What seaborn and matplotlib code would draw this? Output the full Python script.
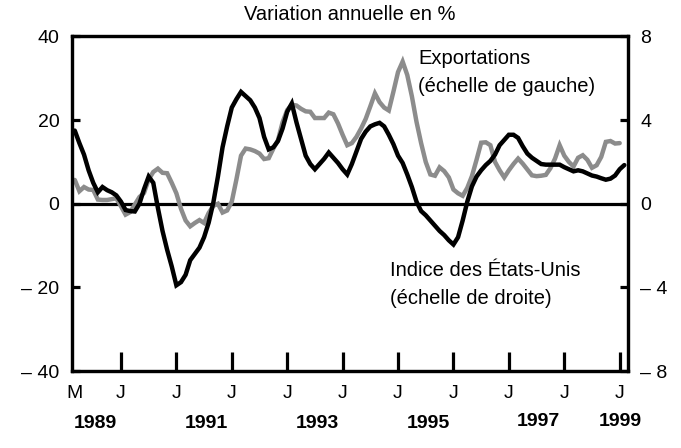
import numpy as np
import pandas as pd
import matplotlib
matplotlib.use("Agg")
import matplotlib.pyplot as plt
import matplotlib.transforms as mtransforms
import seaborn as sns

# ---------------- data ----------------
start_month = 2  # months since Jan 1989 (2 = March 1989)

exports = [5.7, 3.0, 4.0, 3.4, 3.3, 1.0, 0.9, 0.9, 1.1, 1.3,
           -0.6, -2.6, -2.0, -0.2, 1.6, 2.6, 5.8, 7.6, 8.4, 7.4,
           7.3, 5.0, 2.5, -1.2, -4.0, -5.4, -4.6, -3.9, -4.6, -2.2,
           -0.5, 0.0, -2.1, -1.6, 0.5, 5.8, 11.5, 13.2, 13.0, 12.6,
           12.0, 10.7, 10.9, 13.2, 15.2, 19.5, 22.4, 23.7, 23.5, 22.7,
           22.1, 22.0, 20.5, 20.5, 20.5, 21.8, 21.4, 19.2, 16.5, 14.0,
           14.5, 16.0, 18.0, 20.3, 23.3, 26.4, 24.3, 23.0, 22.3, 26.8,
           31.5, 34.0, 30.8, 25.7, 19.6, 14.5, 10.0, 7.0, 6.7, 8.7,
           7.8, 6.3, 3.4, 2.5, 1.9, 3.8, 6.6, 10.5, 14.6, 14.7,
           14.0, 10.0, 8.0, 6.3, 8.0, 9.5, 10.8, 9.6, 8.2, 6.8,
           6.6, 6.7, 6.9, 8.5, 10.8, 14.0, 11.5, 10.0, 8.9, 11.0,
           11.6, 10.5, 8.6, 9.2, 11.2, 14.8, 15.0, 14.4, 14.5]

us_index = [3.5, 2.9, 2.35, 1.6, 1.0, 0.55, 0.8, 0.65, 0.55, 0.4,
            0.1, -0.3, -0.35, -0.37, 0.0, 0.7, 1.3, 1.0, -0.2, -1.3,
            -2.2, -3.0, -3.9, -3.75, -3.4, -2.7, -2.4, -2.1, -1.6, -0.9,
            0.05, 1.3, 2.7, 3.7, 4.6, 5.0, 5.35, 5.15, 4.95, 4.6,
            4.1, 3.2, 2.6, 2.7, 3.0, 3.6, 4.4, 4.8, 3.9, 3.1,
            2.3, 1.9, 1.65, 1.9, 2.15, 2.45, 2.2, 1.95, 1.65, 1.4,
            1.9, 2.5, 3.1, 3.45, 3.7, 3.8, 3.87, 3.7, 3.3, 2.85,
            2.3, 1.95, 1.4, 0.8, 0.1, -0.35, -0.55, -0.8, -1.05, -1.3,
            -1.5, -1.75, -1.95, -1.6, -0.8, 0.1, 0.83, 1.3, 1.6, 1.85,
            2.05, 2.35, 2.8, 3.05, 3.3, 3.3, 3.15, 2.75, 2.4, 2.2,
            2.05, 1.9, 1.87, 1.87, 1.87, 1.87, 1.75, 1.65, 1.55, 1.6,
            1.55, 1.45, 1.35, 1.3, 1.22, 1.15, 1.2, 1.35, 1.65, 1.85]

left_ticks = [-40, -20, 0, 20, 40]
left_labels = ["\u2013 40", "\u2013 20", "0", "20", "40"]
right_ticks = [-8, -4, 0, 4, 8]
right_labels = ["\u2013 8", "\u2013 4", "0", "4", "8"]
x_ticks = [2, 12, 24, 36, 48, 60, 72, 84, 96, 108, 120]
x_labels = ["M", "J", "J", "J", "J", "J", "J", "J", "J", "J", "J"]
year_labels = ["1989", "1991", "1993", "1995", "1997", "1999"]
year_pos = [6.5, 30.5, 54.5, 78.5, 102.5, 120.2]

df_exp = pd.DataFrame({"month": np.arange(start_month, start_month + len(exports)),
                       "value": exports})
df_us = pd.DataFrame({"month": np.arange(start_month, start_month + len(us_index)),
                      "value": us_index})

# ---------------- style ----------------
sns.set_style("ticks")
plt.rcParams["font.family"] = ["Liberation Sans", "DejaVu Sans"]
plt.rcParams["text.color"] = "black"
plt.rcParams["xtick.color"] = "black"
plt.rcParams["ytick.color"] = "black"
plt.rcParams["xtick.labelcolor"] = "black"
plt.rcParams["ytick.labelcolor"] = "black"

W, H = 681, 448
fig = plt.figure(figsize=(W / 100, H / 100), dpi=100)
L, R, T, B = 72, 628, 36.5, 371
ax = fig.add_axes([L / W, 1 - B / H, (R - L) / W, (B - T) / H])
ax2 = ax.twinx()

gray = "#8c8c8c"
sns.lineplot(data=df_exp, x="month", y="value", ax=ax, color=gray, lw=3.2,
             solid_joinstyle="miter")
sns.lineplot(data=df_us, x="month", y="value", ax=ax2, color="black", lw=3.2,
             solid_joinstyle="miter")
ax.axhline(0, color="black", lw=2.3, zorder=1)

ax.set_xlim(1.4, 121.8)
ax.set_ylim(-40, 40)
ax2.set_ylim(-8, 8)

ax.set_yticks(left_ticks)
ax.set_yticklabels(left_labels)
ax2.set_yticks(right_ticks)
ax2.set_yticklabels(right_labels)
ax.set_xticks(x_ticks)
ax.set_xticklabels(x_labels)
ax.xaxis.get_major_ticks()[0].tick1line.set_visible(False)

for a in (ax, ax2):
    a.set_xlabel("")
    a.set_ylabel("")
    for s in a.spines.values():
        s.set_visible(True)
        s.set_linewidth(2.3)
        s.set_color("black")

ax.tick_params(axis="y", direction="in", length=6, width=2.3, pad=9,
               labelsize=14, colors="black")
ax2.tick_params(axis="y", direction="in", length=6, width=2.3, pad=9,
                labelsize=14, colors="black")
ax.tick_params(axis="x", direction="in", length=13.5, width=2.3, pad=10,
               labelsize=14, colors="black")

# year labels
trans = mtransforms.blended_transform_factory(ax.transData, fig.transFigure)
for lbl, pos in zip(year_labels, year_pos):
    yy = 421 if lbl in ("1997", "1999") else 423.5
    ax.text(pos, 1 - yy / H, lbl, transform=trans, ha="center", va="center",
            fontsize=14, fontweight="bold", color="black")

# title and annotations
fig.text(350 / W, 1 - 15 / H, "Variation annuelle en %", ha="center",
         va="center", fontsize=14.5, color="black")
fig.text(418 / W, 1 - 63.5 / H, "Exportations", ha="left", va="baseline",
         fontsize=14.5, color="black")
fig.text(418 / W, 1 - 91.5 / H, "(\u00e9chelle de gauche)", ha="left",
         va="baseline", fontsize=14.5, color="black")
fig.text(390 / W, 1 - 276.5 / H, "Indice des \u00c9tats-Unis", ha="left",
         va="baseline", fontsize=14.5, color="black")
fig.text(390 / W, 1 - 304 / H, "(\u00e9chelle de droite)", ha="left",
         va="baseline", fontsize=14.5, color="black")

fig.savefig("out.png", dpi=100)
